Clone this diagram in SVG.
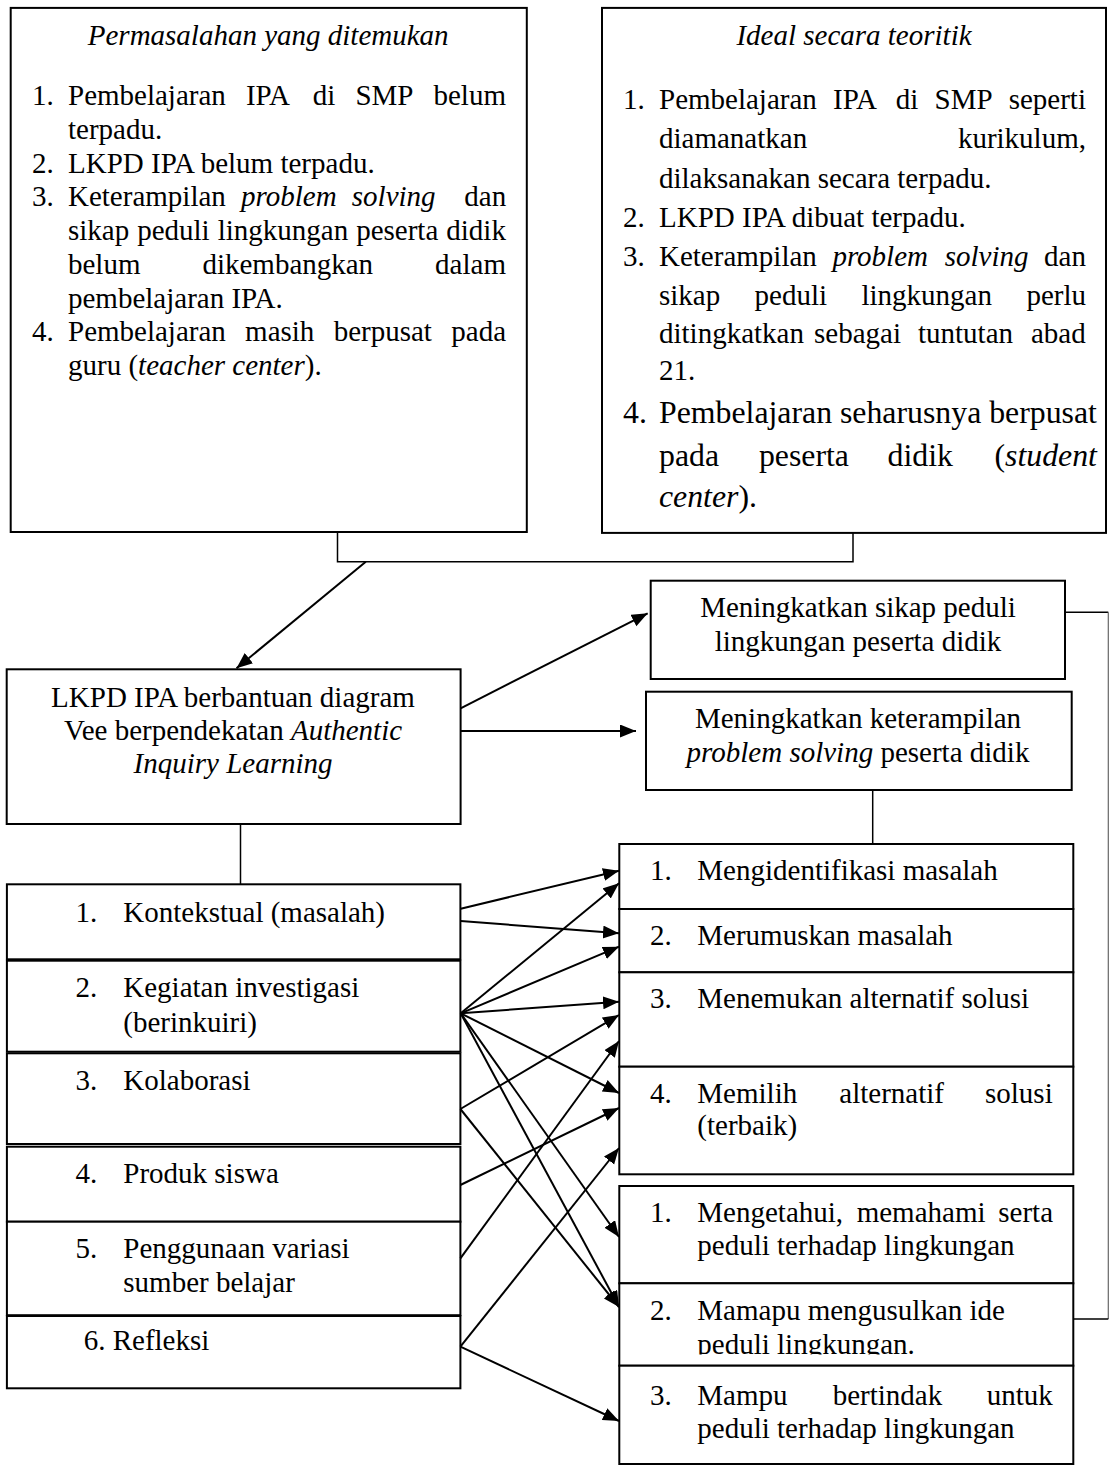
<svg xmlns="http://www.w3.org/2000/svg" width="1110" height="1466" viewBox="0 0 1110 1466">
<style>
.b{fill:#fff;stroke:#000;stroke-width:2}
.t{font-family:"Liberation Serif","Times New Roman",serif;font-size:29px;fill:#000}
.l{font-size:31.8px}
.c{stroke:#000;stroke-width:1.5;fill:none}
.a{stroke:#000;stroke-width:2;fill:none;marker-end:url(#ah)}
</style>
<defs>
<marker id="ah" markerUnits="userSpaceOnUse" markerWidth="17" markerHeight="14" refX="16" refY="6.5" orient="auto"><path d="M0,0 L16,6.5 L0,13 Z" fill="#000"/></marker>
<clipPath id="clipB2"><rect x="620" y="1284" width="452" height="70.5"/></clipPath>
</defs>
<rect width="1110" height="1466" fill="#fff"/>

<g id="box-permasalahan">
<rect class="b" x="10.7" y="7.9" width="516.1" height="524.1"/>
<text class="t" x="268.2" y="44.6" text-anchor="middle" font-style="italic">Permasalahan yang ditemukan</text>
<text class="t" x="32" y="105">1.</text>
<text class="t" y="105"><tspan x="68">Pembelajaran </tspan><tspan x="245.9">IPA </tspan><tspan x="312.7">di </tspan><tspan x="355.4">SMP </tspan><tspan x="433.5">belum</tspan></text>
<text class="t" x="68" y="138.75">terpadu.</text>
<text class="t" x="32" y="172.5">2.</text>
<text class="t" x="68" y="172.5">LKPD IPA belum terpadu.</text>
<text class="t" x="32" y="206.25">3.</text>
<text class="t" y="206.25"><tspan x="68">Keterampilan </tspan><tspan x="241" font-style="italic">problem </tspan><tspan x="351.8" font-style="italic">solving </tspan><tspan x="464.3">dan</tspan></text>
<text class="t" y="240"><tspan x="68">sikap </tspan><tspan x="137.2">peduli </tspan><tspan x="217.7">lingkungan </tspan><tspan x="356.2">peserta </tspan><tspan x="446.3">didik</tspan></text>
<text class="t" y="273.75"><tspan x="68">belum </tspan><tspan x="202.4">dikembangkan </tspan><tspan x="435.1">dalam</tspan></text>
<text class="t" x="68" y="307.5">pembelajaran IPA.</text>
<text class="t" x="32" y="341.25">4.</text>
<text class="t" y="341.25"><tspan x="68">Pembelajaran </tspan><tspan x="245.1">masih </tspan><tspan x="333.7">berpusat </tspan><tspan x="451.3">pada</tspan></text>
<text class="t" x="68" y="375">guru (<tspan font-style="italic">teacher center</tspan>).</text>
</g>

<g id="box-ideal">
<rect class="b" x="602" y="7.9" width="504" height="525"/>
<text class="t" x="854" y="44.6" text-anchor="middle" font-style="italic">Ideal secara teoritik</text>
<text class="t" x="623" y="109">1.</text>
<text class="t" y="109"><tspan x="659">Pembelajaran </tspan><tspan x="833">IPA </tspan><tspan x="895.8">di </tspan><tspan x="934.5">SMP </tspan><tspan x="1008.7">seperti</tspan></text>
<text class="t" y="148"><tspan x="659">diamanatkan </tspan><tspan x="957.9">kurikulum,</tspan></text>
<text class="t" x="659" y="187.5">dilaksanakan secara terpadu.</text>
<text class="t" x="623" y="227">2.</text>
<text class="t" x="659" y="227">LKPD IPA dibuat terpadu.</text>
<text class="t" x="623" y="266">3.</text>
<text class="t" y="266"><tspan x="659">Keterampilan </tspan><tspan x="832.4" font-style="italic">problem </tspan><tspan x="944.7" font-style="italic">solving </tspan><tspan x="1044.1">dan</tspan></text>
<text class="t" y="305"><tspan x="659">sikap </tspan><tspan x="754.6">peduli </tspan><tspan x="861.5">lingkungan </tspan><tspan x="1026.4">perlu</tspan></text>
<text class="t" y="343"><tspan x="659">ditingkatkan </tspan><tspan x="814">sebagai </tspan><tspan x="918">tuntutan </tspan><tspan x="1031">abad</tspan></text>
<text class="t" x="659" y="380">21.</text>
<text class="t l" x="623" y="423">4.</text>
<text class="t l" x="659" y="423">Pembelajaran seharusnya berpusat</text>
<text class="t l" y="466"><tspan x="659">pada </tspan><tspan x="758.9">peserta </tspan><tspan x="887.5">didik </tspan><tspan x="994.5">(</tspan><tspan font-style="italic">student</tspan></text>
<text class="t l" x="659" y="507"><tspan font-style="italic">center</tspan>).</text>
</g>

<g id="box-lkpd">
<rect class="b" x="6.7" y="669.3" width="453.9" height="154.7"/>
<text class="t" x="233" y="706.7" text-anchor="middle">LKPD IPA berbantuan diagram</text>
<text class="t" x="233" y="740" text-anchor="middle">Vee berpendekatan <tspan font-style="italic">Authentic</tspan></text>
<text class="t" x="233" y="773.3" text-anchor="middle" font-style="italic">Inquiry Learning</text>
</g>

<g id="box-sikap">
<rect class="b" x="650.7" y="580.7" width="414.3" height="98.3"/>
<text class="t" x="858" y="617.3" text-anchor="middle">Meningkatkan sikap peduli</text>
<text class="t" x="858" y="650.7" text-anchor="middle">lingkungan peserta didik</text>
</g>

<g id="box-keterampilan">
<rect class="b" x="646" y="691.7" width="425.7" height="98.3"/>
<text class="t" x="858" y="728.3" text-anchor="middle">Meningkatkan keterampilan</text>
<text class="t" x="858" y="761.7" text-anchor="middle"><tspan font-style="italic">problem solving</tspan> peserta didik</text>
</g>

<g id="left-1">
<rect class="b" x="6.9" y="884.3" width="453.5" height="75"/>
<text class="t" x="75.5" y="921.7">1.</text>
<text class="t" x="123.3" y="921.7">Kontekstual (masalah)</text>
</g>
<g id="left-2">
<rect class="b" x="6.9" y="960.7" width="453.5" height="91"/>
<text class="t" x="75.5" y="997.3">2.</text>
<text class="t" x="123.3" y="997.3">Kegiatan investigasi</text>
<text class="t" x="123.3" y="1031.7">(berinkuiri)</text>
</g>
<g id="left-3">
<rect class="b" x="6.9" y="1053.3" width="453.5" height="90.7"/>
<text class="t" x="75.5" y="1090">3.</text>
<text class="t" x="123.3" y="1090">Kolaborasi</text>
</g>
<g id="left-4">
<rect class="b" x="6.9" y="1146.7" width="453.5" height="75"/>
<text class="t" x="75.5" y="1183.3">4.</text>
<text class="t" x="123.3" y="1183.3">Produk siswa</text>
</g>
<g id="left-5">
<rect class="b" x="6.9" y="1221.7" width="453.5" height="93.5"/>
<text class="t" x="75.5" y="1258.3">5.</text>
<text class="t" x="123.3" y="1258.3">Penggunaan variasi</text>
<text class="t" x="123.3" y="1291.7">sumber belajar</text>
</g>
<g id="left-6">
<rect class="b" x="6.9" y="1316" width="453.5" height="72.3"/>
<text class="t" x="83.7" y="1350">6. Refleksi</text>
</g>

<g id="right-1">
<rect class="b" x="619.3" y="844" width="454" height="65"/>
<text class="t" x="650" y="880">1.</text>
<text class="t" x="697.3" y="880">Mengidentifikasi masalah</text>
</g>
<g id="right-2">
<rect class="b" x="619.3" y="909" width="454" height="63.3"/>
<text class="t" x="650" y="945">2.</text>
<text class="t" x="697.3" y="945">Merumuskan masalah</text>
</g>
<g id="right-3">
<rect class="b" x="619.3" y="972.3" width="454" height="94.4"/>
<text class="t" x="650" y="1008.3">3.</text>
<text class="t" x="697.3" y="1008.3">Menemukan alternatif solusi</text>
</g>
<g id="right-4">
<rect class="b" x="619.3" y="1066.7" width="454" height="107.6"/>
<text class="t" x="650" y="1103.3">4.</text>
<text class="t" y="1103.3"><tspan x="697.3">Memilih </tspan><tspan x="839.3">alternatif </tspan><tspan x="985">solusi</tspan></text>
<text class="t" x="697.3" y="1135">(terbaik)</text>
</g>

<g id="sikap-1">
<rect class="b" x="619.3" y="1186" width="454" height="97.3"/>
<text class="t" x="650" y="1221.7">1.</text>
<text class="t" y="1221.7"><tspan x="697.3">Mengetahui, </tspan><tspan x="856.7">memahami </tspan><tspan x="998.3">serta</tspan></text>
<text class="t" x="697.3" y="1255">peduli terhadap lingkungan</text>
</g>
<g id="sikap-2">
<rect class="b" x="619.3" y="1283.3" width="454" height="82.4"/>
<text class="t" x="650" y="1320">2.</text>
<text class="t" x="697.3" y="1320">Mamapu mengusulkan ide</text>
<text class="t" x="697.3" y="1353.5" clip-path="url(#clipB2)">peduli lingkungan.</text>
</g>
<g id="sikap-3">
<rect class="b" x="619.3" y="1365.7" width="454" height="98.3"/>
<text class="t" x="650" y="1405">3.</text>
<text class="t" y="1405"><tspan x="697.3">Mampu </tspan><tspan x="832.7">bertindak </tspan><tspan x="986.7">untuk</tspan></text>
<text class="t" x="697.3" y="1438.3">peduli terhadap lingkungan</text>
</g>

<g id="connectors">
<path class="c" d="M337.5,532 V561.7 H853 V533"/>
<line class="a" x1="365.8" y1="561.7" x2="236.5" y2="668.3"/>
<line class="a" x1="460.6" y1="708.3" x2="647.7" y2="613.3"/>
<line class="a" x1="460.6" y1="731" x2="636" y2="731"/>
<line class="c" x1="240.5" y1="824" x2="240.5" y2="884.3"/>
<line class="c" x1="872.7" y1="790" x2="872.7" y2="844"/>
<line class="c" x1="1065" y1="612.3" x2="1108.3" y2="612.3" stroke-width="1.3"/>
<line x1="1108.3" y1="612.3" x2="1108.3" y2="1319" stroke="#666" stroke-width="1.2"/>
<line class="c" x1="1073.3" y1="1319" x2="1108.3" y2="1319" stroke-width="1.3"/>
<line class="a" x1="460.7" y1="908.7" x2="619" y2="870.7"/>
<line class="a" x1="460.7" y1="921" x2="619" y2="933.3"/>
<line class="a" x1="460.7" y1="1013.3" x2="619" y2="883.3"/>
<line class="a" x1="460.7" y1="1013.3" x2="619" y2="946.7"/>
<line class="a" x1="460.7" y1="1013.3" x2="619" y2="1001.7"/>
<line class="a" x1="460.7" y1="1013.3" x2="619" y2="1093"/>
<line class="a" x1="460.7" y1="1013.3" x2="619" y2="1237"/>
<line class="a" x1="460.7" y1="1013.3" x2="619" y2="1307"/>
<line class="a" x1="460.4" y1="1109" x2="619" y2="1015"/>
<line class="a" x1="460.4" y1="1109" x2="619" y2="1307"/>
<line class="a" x1="460.4" y1="1185" x2="619" y2="1108"/>
<line class="a" x1="460.4" y1="1258.3" x2="619" y2="1041"/>
<line class="a" x1="460.4" y1="1346.7" x2="619" y2="1148"/>
<line class="a" x1="460.4" y1="1346.7" x2="619" y2="1421"/>
</g>
</svg>
